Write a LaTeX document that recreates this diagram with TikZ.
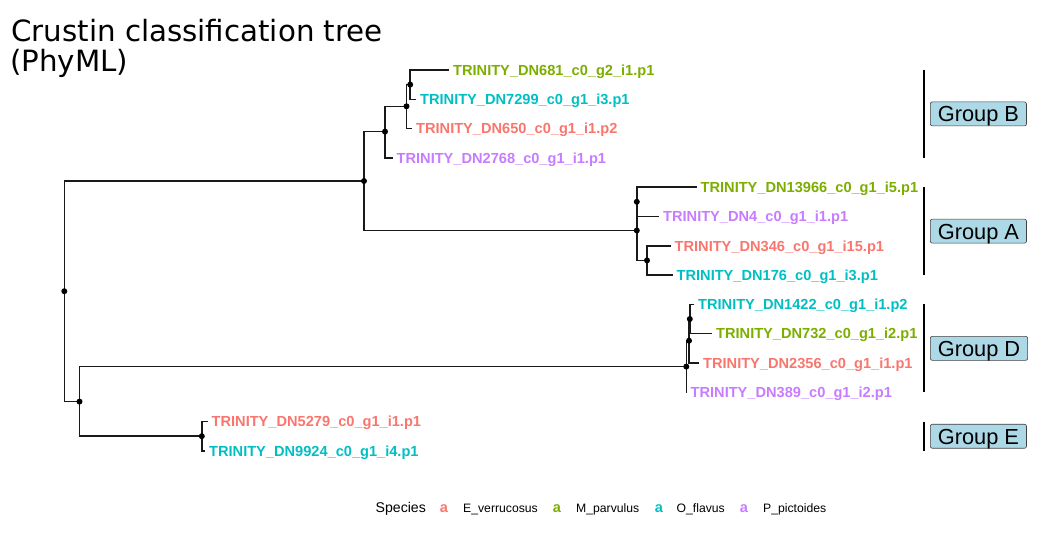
\documentclass[tikz,border=0pt]{standalone}
\usepackage{fontspec}
\setmainfont{Liberation Sans}
\newfontfamily\titlefont{DejaVu Sans}
\usetikzlibrary{positioning}

\definecolor{everr}{HTML}{F8766D}
\definecolor{mparv}{HTML}{7CAE00}
\definecolor{oflav}{HTML}{00BFC4}
\definecolor{ppict}{HTML}{C77CFF}
\definecolor{boxfill}{HTML}{ADD8E6}

\tikzset{
  branch/.style={line width=1.5pt, black!90},
  tiplabel/.style={anchor=west, inner sep=0pt, text height=10.5pt, text depth=0pt,
    font=\bfseries\fontsize{14.6}{16}\selectfont},
  groupbar/.style={line width=1.2pt, black},
  groupbox/.style={draw=black!75, fill=boxfill, line width=0.6pt, rounded corners=2pt,
    inner xsep=7.5pt, inner ysep=0pt, text height=20pt, text depth=4pt,
    font=\fontsize{21.8}{24}\selectfont}
}

\begin{document}
\begin{tikzpicture}[x=1pt, y=-1pt]
  \useasboundingbox (0,0) rectangle (1061,534);

  % title
  \node[anchor=base west, inner sep=0pt, font=\titlefont\fontsize{29.3}{30}\selectfont] (title) at (11,42) {Crustin classification tree};
  \node[anchor=base west, inner sep=0pt, font=\titlefont\fontsize{29.3}{30}\selectfont] (subtitle) at (10,72) {(PhyML)};

  % inner nodes
  \coordinate (r)  at (64.3,291.2);
  \coordinate (n4) at (364,181);
  \coordinate (n3) at (385,131.6);
  \coordinate (n2) at (406.5,106.3);
  \coordinate (n1) at (410.2,84.6);
  \coordinate (a1) at (636.8,230.5);
  \coordinate (a2) at (636.8,201.8);
  \coordinate (a3) at (647,260.4);
  \coordinate (d0) at (79.5,401.6);
  \coordinate (dD) at (686.3,366.6);
  \coordinate (d1) at (689,340.7);
  \coordinate (d2) at (689.8,319);
  \coordinate (ne) at (201.8,436.2);

  % tips and their labels
  \foreach \tip/\x/\y/\col/\lab in {
    t681/449/70/mparv/{TRINITY\_DN681\_c0\_g2\_i1.p1},
    t7299/416/99.3/oflav/{TRINITY\_DN7299\_c0\_g1\_i3.p1},
    t650/412/128.6/everr/{TRINITY\_DN650\_c0\_g1\_i1.p2},
    t2768/392.5/157.9/ppict/{TRINITY\_DN2768\_c0\_g1\_i1.p1},
    t13966/696.5/187.2/mparv/{TRINITY\_DN13966\_c0\_g1\_i5.p1},
    t4/659/216.5/ppict/{TRINITY\_DN4\_c0\_g1\_i1.p1},
    t346/670.5/245.8/everr/{TRINITY\_DN346\_c0\_g1\_i15.p1},
    t176/672.5/275.1/oflav/{TRINITY\_DN176\_c0\_g1\_i3.p1},
    t1422/694/304.4/oflav/{TRINITY\_DN1422\_c0\_g1\_i1.p2},
    t732/712/333.7/mparv/{TRINITY\_DN732\_c0\_g1\_i2.p1},
    t2356/699/363/everr/{TRINITY\_DN2356\_c0\_g1\_i1.p1},
    t389/686.5/392.3/ppict/{TRINITY\_DN389\_c0\_g1\_i2.p1},
    t5279/207.5/421.6/everr/{TRINITY\_DN5279\_c0\_g1\_i1.p1},
    t9924/205/450.9/oflav/{TRINITY\_DN9924\_c0\_g1\_i4.p1}}
  {
    \coordinate (\tip) at (\x,\y);
    \node[tiplabel, text=\col, right=4pt of \tip] (lab-\tip) {\lab};
  }

  % branches
  \draw[branch]
  (r) |- (n4)  (r) |- (d0)
  (n4) |- (n3)  (n4) |- (a1)
  (n3) |- (n2)  (n3) |- (t2768)
  (n2) |- (n1)  (n2) |- (t650)
  (n1) |- (t681)  (n1) |- (t7299)
  (a1) |- (a2)  (a1) |- (a3)
  (a2) |- (t13966)  (a2) |- (t4)
  (a3) |- (t346)  (a3) |- (t176)
  (d0) |- (dD)  (d0) |- (ne)
  (dD) |- (d1)  (dD) |- (t389)
  (d1) |- (d2)  (d1) |- (t2356)
  (d2) |- (t1422)  (d2) |- (t732)
  (ne) |- (t5279)  (ne) |- (t9924);

  \foreach \n in {r,n4,n3,n2,n1,a1,a2,a3,d0,dD,d1,d2,ne}
    \fill (\n) circle[radius=3pt];

  % group bars
  \coordinate (bar) at (924,0);
  \draw[groupbar] (bar |- t681) -- node[groupbox, anchor=west, xshift=6pt] (grpB) {Group B} (bar |- t2768);
  \draw[groupbar] (bar |- t13966) -- node[groupbox, anchor=west, xshift=6pt] (grpA) {Group A} (bar |- t176);
  \draw[groupbar] (bar |- t1422) -- node[groupbox, anchor=west, xshift=6pt] (grpD) {Group D} (bar |- t389);
  \draw[groupbar] (bar |- t5279) -- node[groupbox, anchor=west, xshift=6pt] (grpE) {Group E} (bar |- t9924);

  % legend
  \node[anchor=base west, inner sep=0pt, font=\fontsize{14.1}{16}\selectfont] (species) at (375.5,512.5) {Species};
  \foreach \col/\kx/\lx/\lab in {everr/444/463/E\_verrucosus, mparv/557/576/M\_parvulus,
    oflav/659/676.5/O\_flavus, ppict/744/763/P\_pictoides}
  {
    \node[anchor=base, inner sep=0pt, text=\col, font=\bfseries\fontsize{14.6}{16}\selectfont] (key-\col) at (\kx,512.5) {a};
    \node[anchor=base west, inner sep=0pt, font=\fontsize{12.2}{14}\selectfont] (leg-\col) at (\lx,512.5) {\lab};
  }
\end{tikzpicture}
\end{document}
